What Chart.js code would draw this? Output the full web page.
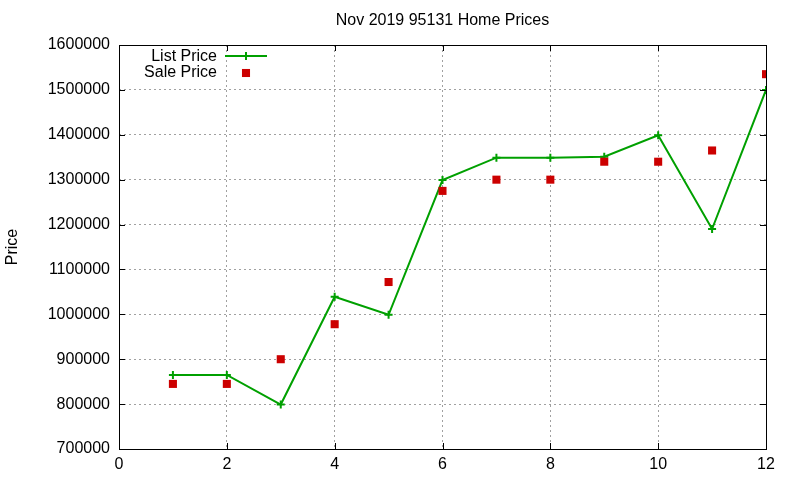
<!DOCTYPE html>
<html>
<head>
<meta charset="utf-8">
<script src="https://cdn.jsdelivr.net/npm/chart.js@4/dist/chart.umd.min.js"></script>
<style>
  body { margin: 0; background: #fff; }
</style>
</head>
<body>
<canvas id="priceChart" width="800" height="480"></canvas>
<script>
// month index on x, price on y
const months = [1, 2, 3, 4, 5, 6, 7, 8, 9, 10, 11, 12];
const listPrice = [865000, 865000, 799000, 1039000, 999000, 1299000, 1349000, 1349000, 1351000, 1399000, 1190000, 1500000];
const salePrice = [845000, 845000, 900000, 978000, 1072000, 1275000, 1300000, 1300000, 1340000, 1340000, 1365000, 1535000];
const chartTitle = 'Nov 2019 95131 Home Prices';

const FONT = '"Liberation Sans", Arial, sans-serif';
const GREEN = '#00a000';
const RED = '#cc0000';

// title centred over the plot area, like gnuplot does
const titlePlugin = {
    id: 'plotTitle',
    afterDraw(chart) {
        const { ctx, chartArea: a } = chart;
        ctx.save();
        ctx.font = '16px ' + FONT;
        ctx.fillStyle = '#000';
        ctx.textAlign = 'center';
        ctx.textBaseline = 'middle';
        ctx.fillText(chartTitle, (a.left + a.right) / 2, 21);
        ctx.restore();
    }
};

// gnuplot style frame with inward ticks on all four sides
const framePlugin = {
    id: 'frame',
    afterDatasetsDraw(chart) {
        const { ctx, chartArea: a, scales } = chart;
        ctx.save();
        ctx.strokeStyle = '#000';
        ctx.lineWidth = 1;
        ctx.strokeRect(a.left + 0.5, a.top + 0.5, a.right - a.left, a.bottom - a.top);
        ctx.beginPath();
        scales.x.ticks.forEach(t => {
            const px = Math.round(scales.x.getPixelForValue(t.value)) + 0.5;
            ctx.moveTo(px, a.bottom); ctx.lineTo(px, a.bottom - 6);
            ctx.moveTo(px, a.top); ctx.lineTo(px, a.top + 6);
        });
        scales.y.ticks.forEach(t => {
            const py = Math.round(scales.y.getPixelForValue(t.value)) + 0.5;
            ctx.moveTo(a.left, py); ctx.lineTo(a.left + 6, py);
            ctx.moveTo(a.right, py); ctx.lineTo(a.right - 6, py);
        });
        ctx.stroke();
        ctx.restore();
    }
};

// key drawn inside the plot, top left, text right aligned
const keyPlugin = {
    id: 'key',
    afterDraw(chart) {
        const { ctx, chartArea: a } = chart;
        const sets = chart.data.datasets;
        ctx.save();
        ctx.font = '16px ' + FONT;
        ctx.textAlign = 'right';
        ctx.textBaseline = 'middle';
        sets.forEach((ds, i) => {
            const y = a.top + 11 + i * 16;
            ctx.fillStyle = '#000';
            ctx.fillText(ds.label, a.left + 98, y + 1);
            const mx = a.left + 127;
            ctx.strokeStyle = ds.borderColor;
            ctx.fillStyle = ds.backgroundColor;
            ctx.lineWidth = 2;
            ctx.beginPath();
            if (ds.showLine) {
                ctx.moveTo(a.left + 106, y);
                ctx.lineTo(a.left + 148, y);
            }
            if (ds.pointStyle === 'rect') {
                const s = ds.pointRadius * Math.SQRT1_2;
                ctx.fillRect(mx - s, y - s + 1, 2 * s, 2 * s);
            } else {
                ctx.moveTo(mx, y - ds.pointRadius); ctx.lineTo(mx, y + ds.pointRadius);
            }
            ctx.stroke();
        });
        ctx.restore();
    }
};

const plainTick = v => String(v);

new Chart(document.getElementById('priceChart'), {
    type: 'scatter',
    data: {
        datasets: [{
            label: 'List Price',
            data: months.map((m, i) => ({ x: m, y: listPrice[i] })),
            showLine: true,
            borderColor: GREEN,
            backgroundColor: GREEN,
            borderWidth: 2,
            pointStyle: 'cross',
            pointRadius: 4,
            pointBorderWidth: 2,
            tension: 0,
            order: 1
        }, {
            label: 'Sale Price',
            data: months.map((m, i) => ({ x: m, y: salePrice[i] })),
            showLine: false,
            borderColor: RED,
            backgroundColor: RED,
            borderWidth: 0,
            pointStyle: 'rect',
            pointRadius: 5.7,
            pointBorderWidth: 0,
            order: 0
        }]
    },
    options: {
        responsive: false,
        animation: false,
        layout: { padding: { top: 45, right: 34, bottom: 0, left: 0 } },
        plugins: {
            legend: { display: false },
            tooltip: { enabled: false },
            title: { display: false }
        },
        scales: {
            x: {
                type: 'linear',
                min: 0,
                max: 12,
                ticks: { stepSize: 2, color: '#000', padding: 6, font: { family: FONT, size: 16 }, callback: plainTick },
                grid: { color: '#a0a0a0', drawTicks: false },
                border: { display: false, dash: [2, 3] },
                afterFit(scale) { scale.height = 31; }
            },
            y: {
                min: 700000,
                max: 1600000,
                ticks: { stepSize: 100000, color: '#000', padding: 9, font: { family: FONT, size: 16 }, callback: plainTick },
                grid: { color: '#a0a0a0', drawTicks: false },
                border: { display: false, dash: [2, 3] },
                title: {
                    display: true,
                    text: 'Price',
                    color: '#000',
                    font: { family: FONT, size: 16 },
                    padding: { top: 3 }
                },
                afterFit(scale) { scale.width = 119; }
            }
        }
    },
    plugins: [framePlugin, keyPlugin, titlePlugin]
});
</script>
</body>
</html>
